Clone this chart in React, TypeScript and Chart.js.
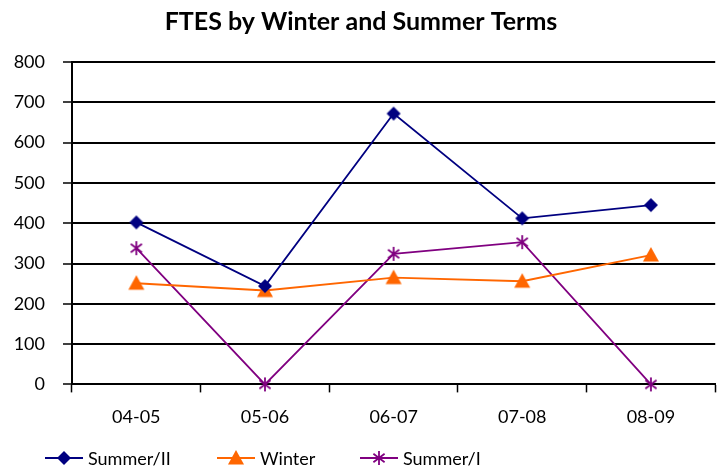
import React, { useEffect, useRef } from "react";
import { Chart, registerables } from "chart.js";

Chart.register(...registerables);

const categories = ["04-05", "05-06", "06-07", "07-08", "08-09"];
const summerII = [402, 244, 672, 412, 445];
const winter = [251, 233, 265, 256, 321];
const summerI = [338, 0, 324, 353, 0];
const seriesNames = ["Summer/II", "Winter", "Summer/I"];
const titleText = "FTES by Winter and Summer Terms";

const FONT = "Lato, 'Liberation Sans', sans-serif";
const COLORS = ["#000080", "#FF6600", "#800080"];
const KINDS = ["diamond", "triangle", "star"];
const LEGEND_X = [45, 217, 360];

function drawMarker(ctx: CanvasRenderingContext2D, kind: string, cx: number, cy: number, color: string) {
  ctx.save();
  ctx.fillStyle = color;
  ctx.strokeStyle = color;
  if (kind === "diamond") {
    const r = 7;
    ctx.beginPath();
    ctx.moveTo(cx, cy - r);
    ctx.lineTo(cx + r, cy);
    ctx.lineTo(cx, cy + r);
    ctx.lineTo(cx - r, cy);
    ctx.closePath();
    ctx.fill();
  } else if (kind === "triangle") {
    const r = 8;
    ctx.beginPath();
    ctx.moveTo(cx, cy - r);
    ctx.lineTo(cx + r, cy + r * 0.8);
    ctx.lineTo(cx - r, cy + r * 0.8);
    ctx.closePath();
    ctx.fill();
  } else {
    const r = 7;
    ctx.lineWidth = 1.8;
    ctx.beginPath();
    ctx.moveTo(cx - r * 0.8, cy - r * 0.6);
    ctx.lineTo(cx + r * 0.8, cy + r * 0.6);
    ctx.moveTo(cx + r * 0.8, cy - r * 0.6);
    ctx.lineTo(cx - r * 0.8, cy + r * 0.6);
    ctx.moveTo(cx, cy - r);
    ctx.lineTo(cx, cy + r);
    ctx.stroke();
  }
  ctx.restore();
}

function makeMarker(kind: string, color: string) {
  const c = document.createElement("canvas");
  c.width = 20;
  c.height = 20;
  const ctx = c.getContext("2d")!;
  drawMarker(ctx, kind, 10, 10, color);
  return c;
}

const legendPlugin = {
  id: "customLegend",
  afterDraw(chart: any) {
    const ctx = chart.ctx as CanvasRenderingContext2D;
    const y = 458;
    ctx.save();
    ctx.font = `18px ${FONT}`;
    ctx.textBaseline = "middle";
    seriesNames.forEach((name, i) => {
      const x0 = LEGEND_X[i];
      ctx.strokeStyle = COLORS[i];
      ctx.lineWidth = 2;
      ctx.beginPath();
      ctx.moveTo(x0, y);
      ctx.lineTo(x0 + 38, y);
      ctx.stroke();
      drawMarker(ctx, KINDS[i], x0 + 19, y, COLORS[i]);
      ctx.fillStyle = "#000";
      ctx.fillText(name, x0 + 43, y + 1);
    });
    ctx.restore();
  },
};

export default function App() {
  const ref = useRef<HTMLCanvasElement>(null);
  useEffect(() => {
    const values = [summerII, winter, summerI];
    const markers = KINDS.map((k, i) => makeMarker(k, COLORS[i]));
    const chart = new Chart(ref.current!, {
      type: "line",
      data: {
        labels: categories,
        datasets: values.map((v, i) => ({
          label: seriesNames[i],
          data: v,
          borderColor: COLORS[i],
          backgroundColor: COLORS[i],
          borderWidth: 1.8,
          pointStyle: markers[i] as any,
          pointRadius: 8,
          tension: 0,
          clip: false as any,
        })),
      },
      options: {
        animation: false,
        responsive: false,
        layout: { padding: { left: 0, right: 3, top: 0, bottom: 28 } },
        plugins: {
          title: {
            display: true,
            text: titleText,
            color: "#000",
            font: { family: FONT, size: 25, weight: "bold" },
            padding: { top: 7, bottom: 25 },
          },
          legend: { display: false },
          tooltip: { enabled: false },
        },
        scales: {
          y: {
            min: 0,
            max: 800,
            ticks: { stepSize: 100, color: "#000", font: { family: FONT, size: 18 }, padding: 18 },
            grid: { color: "#000", lineWidth: 2, tickLength: 9, tickColor: "#000", tickWidth: 1.5 },
            border: { color: "#000", width: 2 },
            afterFit: (s: any) => {
              s.width = 72;
            },
          },
          x: {
            offset: true,
            ticks: { color: "#000", font: { family: FONT, size: 18 }, padding: 14 },
            grid: { offset: true, drawOnChartArea: false, tickLength: 8, color: "#000", tickWidth: 1.5 },
            border: { color: "#000", width: 2 },
          },
        },
      },
      plugins: [legendPlugin],
    });
    return () => chart.destroy();
  }, []);
  return (
    <div style={{ position: "fixed", left: 0, top: 0, width: 725, height: 470, background: "#fff" }}>
      <canvas ref={ref} width={725} height={470} />
    </div>
  );
}
